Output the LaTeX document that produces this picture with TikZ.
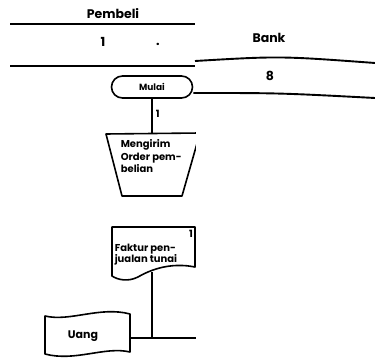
\documentclass[tikz,border=0pt]{standalone}
\usepackage{fontspec}
\setmainfont{Poppins}
\usetikzlibrary{shapes.misc}
\begin{document}
\begin{tikzpicture}[x=1pt,y=-1pt,line width=1.6pt,line join=round,
  lane/.style={line width=1.9pt},
  lbl/.style={font=\fontsize{12.5}{13}\selectfont\bfseries,inner sep=0pt},
  small/.style={font=\fontsize{10}{11}\selectfont\bfseries,align=left,inner sep=0pt},
  terminal/.style={draw,rounded rectangle,minimum width=81pt,minimum height=22pt,inner sep=0pt,
    font=\fontsize{9}{10}\selectfont\bfseries}]
\useasboundingbox (0,0) rectangle (375,363);

% swimlane headers
\draw[lane] (10,24) -- (195,24);
\draw[lane] (10,66) -- (195,66);
\draw[lane] (195,61) .. controls (280,56) .. (375,63);
\node[lbl] (pembeli) at (113,14) {Pembeli};
\node[lbl] (laneA) at (103,42) {1};
\node[lbl] (dotA) at (158,44) {.};
\node[lbl] (bank) at (269,38) {Bank};
\node[lbl] (laneB) at (270,76) {8};

% start terminal
\node[terminal] (mulai) at (152,87) {Mulai};
\draw[lane] (mulai.east) ++(0,6) coordinate (bankline)
  .. controls (280,93) .. (375,98);

\begin{scope}
\clip (0,100) rectangle (195.8,363);
% manual operation: sending the purchase order
\coordinate (trapTop) at (152,133);
\draw (106,134) -- (200,133) -- (182,196) -- (122,196) -- cycle;
\node[small,anchor=north west] (order) at (120,139)
  {Mengirim\\[1.5pt]Order pem-\\[1.5pt]belian};

% sales invoice document
\coordinate (docTop) at (152,227);
\draw (112,227) -- (195,227) -- (195,267)
  .. controls (170,262) and (150,270) .. (138,277)
  .. controls (128,282) and (118,280) .. (112,276) -- cycle;
\node[small,anchor=north west] (faktur) at (114,243)
  {Faktur pen-\\[0.5pt]jualan tunai};
\node[small] (fakturNo) at (191,234) {1};
\coordinate (docBottom) at (152,272);
\coordinate (join) at (152,338);
\coordinate (laneEdge) at (196,338);
\end{scope}

% cash
\draw (45,316) .. controls (70,322) and (100,306) .. (130,314)
  -- (130,352) .. controls (105,346) and (75,362) .. (45,354) -- cycle;
\node[small,font=\fontsize{11}{12}\selectfont\bfseries] (uang) at (83,336) {Uang};
\coordinate (uangEast) at (130,338);

% connectors
\draw (mulai.south) -- node[small,right=3pt,pos=0.45] (flow1) {1} (trapTop);
\draw (docBottom) -- (join);
\draw (uangEast) -- (laneEdge);
\end{tikzpicture}
\end{document}
